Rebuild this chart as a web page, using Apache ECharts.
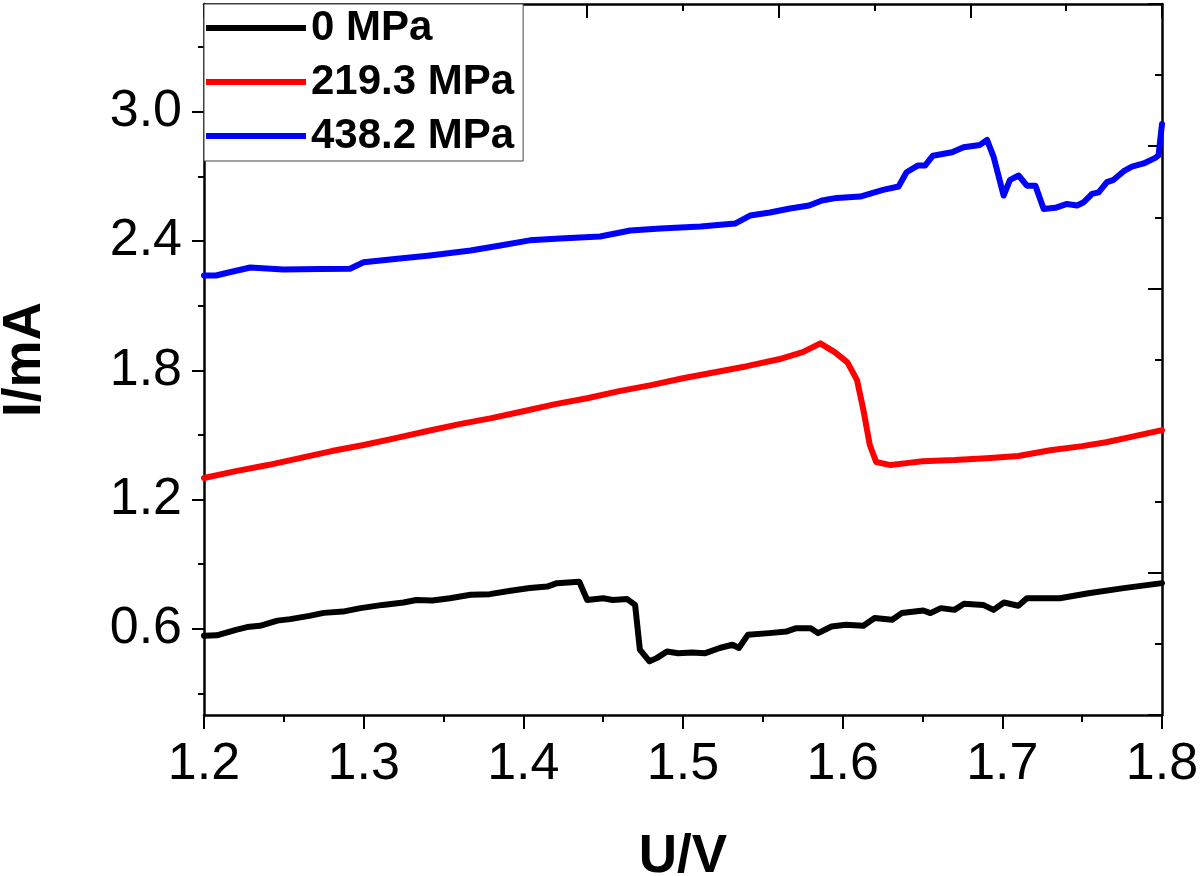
<!DOCTYPE html>
<html>
<head>
<meta charset="utf-8">
<script src="https://cdn.jsdelivr.net/npm/echarts@6/dist/echarts.min.js"></script>
<style>
html, body { margin: 0; padding: 0; background: #fff; }
#main { width: 1200px; height: 876px; }
</style>
</head>
<body>
<div id="main"></div>
<script>
// legend names
var names = ['0 MPa', '219.3 MPa', '438.2 MPa'];

// 0 MPa
var u0 = [1.200,1.208,1.220,1.227,1.235,1.246,1.254,1.266,1.275,1.287,1.298,1.312,1.325,1.333,1.343,1.354,1.367,1.379,1.392,1.404,1.415,1.421,1.435,1.440,1.450,1.456,1.465,1.470,1.473,1.479,1.4835,1.490,1.497,1.5055,1.514,1.523,1.531,1.535,1.5406,1.554,1.565,1.571,1.580,1.5846,1.593,1.602,1.613,1.620,1.631,1.637,1.6505,1.655,1.6615,1.670,1.676,1.688,1.6945,1.701,1.710,1.7154,1.736,1.754,1.776,1.800];
var i0 = [0.568,0.570,0.595,0.608,0.614,0.638,0.645,0.660,0.674,0.680,0.696,0.711,0.722,0.734,0.731,0.742,0.758,0.761,0.777,0.789,0.796,0.812,0.819,0.734,0.742,0.734,0.738,0.711,0.503,0.449,0.464,0.495,0.487,0.490,0.487,0.511,0.526,0.511,0.572,0.580,0.588,0.603,0.603,0.580,0.611,0.619,0.614,0.650,0.642,0.673,0.685,0.673,0.696,0.688,0.716,0.711,0.688,0.722,0.707,0.742,0.742,0.765,0.789,0.812];

// 219.3 MPa
var u1 = [1.20,1.22,1.24,1.26,1.28,1.30,1.32,1.34,1.36,1.38,1.40,1.42,1.44,1.46,1.48,1.50,1.52,1.54,1.56,1.575,1.586,1.595,1.603,1.609,1.613,1.617,1.621,1.630,1.640,1.650,1.670,1.690,1.710,1.730,1.750,1.765,1.780,1.800];
var i1 = [1.300,1.332,1.360,1.392,1.425,1.453,1.485,1.518,1.550,1.578,1.610,1.643,1.670,1.703,1.731,1.763,1.791,1.819,1.851,1.884,1.925,1.884,1.837,1.754,1.615,1.453,1.374,1.360,1.369,1.378,1.383,1.392,1.402,1.429,1.448,1.466,1.490,1.522];

// 438.2 MPa
var u2 = [1.200,1.2075,1.216,1.229,1.2495,1.2727,1.2914,1.300,1.3227,1.3415,1.367,1.3856,1.404,1.423,1.448,1.467,1.486,1.511,1.5326,1.542,1.5545,1.567,1.579,1.587,1.5964,1.611,1.6253,1.635,1.640,1.647,1.6516,1.6565,1.6685,1.6757,1.686,1.6904,1.6946,1.7008,1.7048,1.7102,1.7154,1.7207,1.7259,1.7332,1.7405,1.7468,1.751,1.7562,1.7603,1.7655,1.7697,1.776,1.7812,1.7885,1.7958,1.7978,1.800];
var i2 = [2.240,2.240,2.255,2.277,2.268,2.270,2.271,2.301,2.319,2.333,2.356,2.379,2.403,2.412,2.421,2.449,2.458,2.467,2.481,2.518,2.532,2.551,2.565,2.588,2.600,2.606,2.637,2.653,2.719,2.750,2.750,2.796,2.812,2.835,2.846,2.869,2.789,2.611,2.684,2.704,2.657,2.657,2.549,2.554,2.572,2.565,2.580,2.619,2.626,2.673,2.684,2.724,2.745,2.760,2.786,2.797,2.943];

// y ticks
var yMajor = [0.6, 1.2, 1.8, 2.4, 3.0];
var yMinor = [0.3, 0.9, 1.5, 2.1, 2.7, 3.3];

var colors = ['#000000', '#ff0000', '#0000ff'];
var font = 'Liberation Sans, Arial, sans-serif';

function pairs(u, v) {
    return u.map(function (x, k) { return [x, v[k]]; });
}

var myChart = echarts.init(document.getElementById('main'));

var axisLine = { show: true, lineStyle: { color: '#000', width: 2.5 } };

option = {
    backgroundColor: '#fff',
    animation: false,
    grid: { left: 204, right: 38, top: 4, bottom: 161, outerBoundsMode: 'none' },
    legend: {
        data: names,
        orient: 'vertical',
        left: 204,
        top: 4,
        padding: [3, 9, 4, 2],
        itemGap: 12,
        itemWidth: 100,
        itemHeight: 6,
        icon: 'rect',
        backgroundColor: '#fff',
        borderColor: '#444',
        borderWidth: 1,
        textStyle: { fontFamily: font, fontSize: 42, fontWeight: 'bold', color: '#000', lineHeight: 40 }
    },
    xAxis: [
        {
            type: 'value',
            min: 1.2,
            max: 1.8,
            interval: 0.1,
            name: 'U/V',
            nameLocation: 'middle',
            nameGap: 116,
            nameTextStyle: { fontFamily: font, fontSize: 53, fontWeight: 'bold', color: '#000' },
            axisLine: axisLine,
            axisTick: { show: true, length: 14, lineStyle: { color: '#000', width: 2 } },
            minorTick: { show: true, splitNumber: 2, length: 7, lineStyle: { color: '#000', width: 2 } },
            axisLabel: {
                margin: 24,
                fontFamily: font, fontSize: 52, color: '#000',
                formatter: function (v) { return v.toFixed(1); }
            },
            splitLine: { show: false }
        },
        {
            type: 'value',
            position: 'top',
            min: 0,
            max: 10,
            interval: 2,
            axisLine: axisLine,
            axisTick: { show: true, inside: true, length: 14, lineStyle: { color: '#000', width: 2 } },
            minorTick: { show: true, splitNumber: 2, length: 7, lineStyle: { color: '#000', width: 2 } },
            axisLabel: { show: false },
            splitLine: { show: false }
        }
    ],
    yAxis: [
        {
            type: 'value',
            position: 'left',
            min: 0.2,
            max: 3.5,
            name: 'I/mA',
            nameLocation: 'middle',
            nameRotate: 90,
            nameGap: 152,
            nameTextStyle: { fontFamily: font, fontSize: 53, fontWeight: 'bold', color: '#000' },
            axisLine: axisLine,
            axisTick: { show: true, length: 12, customValues: yMajor, lineStyle: { color: '#000', width: 2 } },
            axisLabel: {
                margin: 22,
                customValues: yMajor,
                fontFamily: font, fontSize: 52, color: '#000',
                formatter: function (v) { return v.toFixed(1); }
            },
            splitLine: { show: false }
        },
        {
            type: 'value',
            position: 'left',
            offset: 0,
            min: 0.2,
            max: 3.5,
            axisLine: { show: false },
            axisTick: { show: true, length: 6, customValues: yMinor, lineStyle: { color: '#000', width: 2 } },
            axisLabel: { show: false },
            splitLine: { show: false }
        },
        {
            type: 'value',
            position: 'right',
            min: 0,
            max: 10,
            interval: 2,
            axisLine: axisLine,
            axisTick: { show: true, inside: true, length: 14, lineStyle: { color: '#000', width: 2 } },
            minorTick: { show: true, splitNumber: 2, length: 7, lineStyle: { color: '#000', width: 2 } },
            axisLabel: { show: false },
            splitLine: { show: false }
        }
    ],
    series: [
        {
            name: names[0],
            type: 'line',
            symbol: 'none',
            color: colors[0],
            lineStyle: { width: 6, color: colors[0], join: 'round', cap: 'round' },
            data: pairs(u0, i0)
        },
        {
            name: names[1],
            type: 'line',
            symbol: 'none',
            color: colors[1],
            lineStyle: { width: 6, color: colors[1], join: 'round', cap: 'round' },
            data: pairs(u1, i1)
        },
        {
            name: names[2],
            type: 'line',
            symbol: 'none',
            color: colors[2],
            lineStyle: { width: 6, color: colors[2], join: 'round', cap: 'round' },
            data: pairs(u2, i2)
        }
    ]
};

myChart.setOption(option);
</script>
</body>
</html>
